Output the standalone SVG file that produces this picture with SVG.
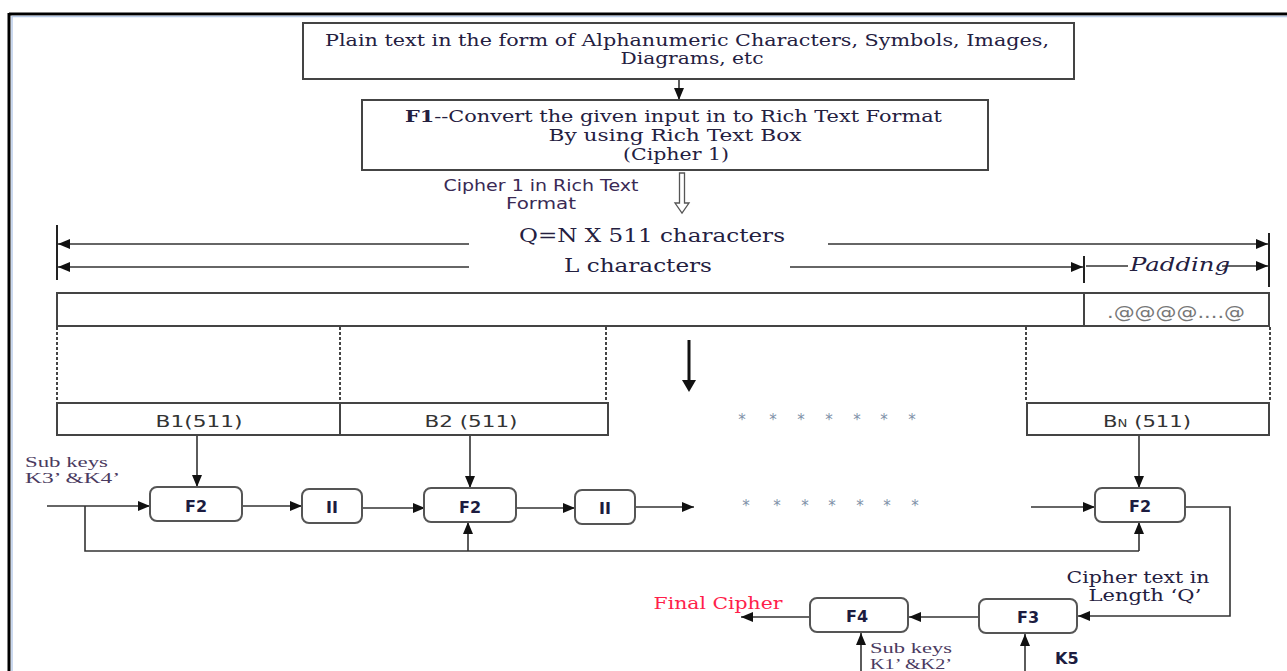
<svg xmlns="http://www.w3.org/2000/svg" width="1287" height="671" viewBox="0 0 1287 671">
<defs>
<marker id="ah" markerUnits="userSpaceOnUse" markerWidth="12" markerHeight="10" refX="12" refY="5" orient="auto"><path d="M0,0 L12,5 L0,10 z" fill="#111"/></marker>
<style>
.box{fill:#fff;stroke:#444;stroke-width:2}
.rbox{fill:#fff;stroke:#555;stroke-width:2}
.ln{fill:none;stroke:#333;stroke-width:1.6}
.ar{fill:none;stroke:#333;stroke-width:1.6;marker-end:url(#ah)}
.dash{fill:none;stroke:#444;stroke-width:2;stroke-dasharray:3,2}
.tick{stroke:#222;stroke-width:2}
.serif{font-family:"DejaVu Serif","Liberation Serif",serif;fill:#24203f}
.sub{font-family:"Liberation Serif","DejaVu Serif",serif;fill:#4a3a60;font-size:14px}
.sans{font-family:"DejaVu Sans","Liberation Sans",sans-serif}
.blk{font-family:"DejaVu Sans","Liberation Sans",sans-serif;font-size:16px;fill:#333;text-anchor:middle}
.fb{font-family:"DejaVu Sans","Liberation Sans",sans-serif;font-weight:bold;font-size:16px;fill:#1c1c40;text-anchor:middle}
.ast{font-family:"DejaVu Sans",sans-serif;font-size:15px;fill:#8090a8;text-anchor:middle}
.red{font-family:"DejaVu Serif","Liberation Serif",serif;fill:#ff1f4b;font-size:16px}
</style>
</defs>
<rect width="1287" height="671" fill="#fff"/>
<g id="frame">
<line x1="9" y1="14" x2="1287" y2="14" stroke="#000" stroke-width="3"/>
<line x1="12" y1="16.5" x2="1287" y2="16.5" stroke="#b8cbe8" stroke-width="1.5"/>
<line x1="9" y1="13" x2="9" y2="671" stroke="#000" stroke-width="3"/>
<line x1="12" y1="16" x2="12" y2="671" stroke="#b8cbe8" stroke-width="1.5"/>
</g>
<g id="connectors">
<line class="ar" x1="679" y1="79" x2="679" y2="100"/>
<path d="M679.5,173 h5 v30 h4.5 l-7,10 l-7,-10 h4.5 z" fill="#fff" stroke="#555" stroke-width="1.3"/>
<line class="ar" x1="469" y1="244" x2="58" y2="244"/>
<line class="ar" x1="828" y1="244" x2="1268" y2="244"/>
<line class="ar" x1="469" y1="267" x2="58" y2="267"/>
<line class="ar" x1="790" y1="267" x2="1083" y2="267"/>
<line class="ln" x1="1086" y1="266" x2="1128" y2="266"/>
<line class="ar" x1="1222" y1="266" x2="1268" y2="266"/>
<line class="tick" x1="57" y1="225" x2="57" y2="280"/>
<line class="tick" x1="1269" y1="233" x2="1269" y2="287"/>
<line class="tick" x1="1084" y1="256" x2="1084" y2="283"/>
<line class="dash" x1="57" y1="327" x2="57" y2="400"/>
<line class="dash" x1="340" y1="327" x2="340" y2="400"/>
<line class="dash" x1="606" y1="327" x2="606" y2="400"/>
<line class="dash" x1="1026" y1="327" x2="1026" y2="400"/>
<line class="dash" x1="1270" y1="327" x2="1270" y2="400"/>
<line x1="689" y1="340" x2="689" y2="382" stroke="#111" stroke-width="3"/>
<path d="M682,380 L696,380 L689,392 z" fill="#111"/>
<line class="ar" x1="197" y1="435" x2="197" y2="487"/>
<line class="ar" x1="470" y1="435" x2="470" y2="488"/>
<line class="ar" x1="1139" y1="435" x2="1139" y2="488"/>
<line class="ar" x1="47" y1="506" x2="150" y2="506"/>
<polyline class="ln" points="85,506 85,551 1139,551"/>
<line class="ar" x1="468" y1="551" x2="468" y2="522"/>
<line class="ar" x1="1139" y1="551" x2="1139" y2="522"/>
<line class="ar" x1="242" y1="506" x2="302" y2="506"/>
<line class="ar" x1="362" y1="508" x2="425" y2="508"/>
<line class="ar" x1="516" y1="508" x2="575" y2="508"/>
<line class="ar" x1="635" y1="507" x2="694" y2="507"/>
<line class="ar" x1="1031" y1="507" x2="1095" y2="507"/>
<polyline class="ar" points="1185,507 1230,507 1230,616 1078,616"/>
<line class="ar" x1="979" y1="617" x2="909" y2="617"/>
<line class="ar" x1="810" y1="617" x2="741" y2="617"/>
<line class="ar" x1="1025" y1="671" x2="1025" y2="634"/>
<line class="ar" x1="861" y1="671" x2="861" y2="633"/>
</g>
<g id="input">
<rect class="box" x="303" y="23" width="771" height="56"/>
<text class="serif" font-size="17" x="325" y="46" textLength="724" lengthAdjust="spacingAndGlyphs">Plain text in the form of Alphanumeric Characters, Symbols, Images,</text>
<text class="serif" font-size="17" x="692" y="64" text-anchor="middle" textLength="143" lengthAdjust="spacingAndGlyphs">Diagrams, etc</text>
</g>
<g id="f1">
<rect class="box" x="362" y="100" width="626" height="70"/>
<text class="serif" font-size="17" x="405" y="122" textLength="537" lengthAdjust="spacingAndGlyphs"><tspan font-weight="bold">F1</tspan>--Convert the given input in to Rich Text Format</text>
<text class="serif" font-size="17" x="675" y="141" text-anchor="middle" textLength="253" lengthAdjust="spacingAndGlyphs">By using Rich Text Box</text>
<text class="serif" font-size="17" x="676" y="160" text-anchor="middle" textLength="106" lengthAdjust="spacingAndGlyphs">(Cipher 1)</text>
</g>
<g id="cipher1-label">
<text class="sans" font-size="15" fill="#3a2a55" x="541" y="191" text-anchor="middle" textLength="195" lengthAdjust="spacingAndGlyphs">Cipher 1 in Rich Text</text>
<text class="sans" font-size="15" fill="#3a2a55" x="541" y="209" text-anchor="middle" textLength="70" lengthAdjust="spacingAndGlyphs">Format</text>
</g>
<g id="lengths">
<text class="serif" font-size="18" x="652" y="242" text-anchor="middle" textLength="266" lengthAdjust="spacingAndGlyphs">Q=N X 511 characters</text>
<text class="serif" font-size="18" x="638" y="272" text-anchor="middle" textLength="148" lengthAdjust="spacingAndGlyphs">L characters</text>
<text class="serif" font-size="18" font-style="italic" x="1180" y="271" text-anchor="middle" textLength="100" lengthAdjust="spacingAndGlyphs">Padding</text>
</g>
<g id="bar">
<rect class="box" x="57" y="293" width="1212" height="33"/>
<line x1="1084" y1="293" x2="1084" y2="326" stroke="#444" stroke-width="2"/>
<text class="sans" font-size="17" fill="#777" x="1176" y="318" text-anchor="middle" textLength="138" lengthAdjust="spacingAndGlyphs">.@@@@....@</text>
</g>
<g id="blocks">
<rect class="box" x="57" y="403" width="283" height="32"/>
<rect class="box" x="340" y="403" width="268" height="32"/>
<rect class="box" x="1027" y="403" width="242" height="32"/>
<text class="blk" x="199" y="427" textLength="87" lengthAdjust="spacingAndGlyphs">B1(511)</text>
<text class="blk" x="471" y="427" textLength="93" lengthAdjust="spacingAndGlyphs">B2 (511)</text>
<text class="blk" x="1147" y="427" textLength="88" lengthAdjust="spacingAndGlyphs">B<tspan font-size="10">N</tspan> (511)</text>
</g>
<g id="stars">
<text class="ast" y="425"><tspan x="742">*</tspan><tspan x="773">*</tspan><tspan x="801">*</tspan><tspan x="829">*</tspan><tspan x="857">*</tspan><tspan x="884">*</tspan><tspan x="912">*</tspan></text>
<text class="ast" y="511"><tspan x="746">*</tspan><tspan x="777">*</tspan><tspan x="805">*</tspan><tspan x="832">*</tspan><tspan x="860">*</tspan><tspan x="887">*</tspan><tspan x="915">*</tspan></text>
</g>
<g id="subkeys1">
<text class="sub" x="25" y="467" textLength="83" lengthAdjust="spacingAndGlyphs">Sub keys</text>
<text class="sub" x="25" y="483" textLength="95" lengthAdjust="spacingAndGlyphs">K3’ &amp;K4’</text>
</g>
<g id="f2a"><rect class="rbox" x="150" y="487" width="92" height="34" rx="7"/><text class="fb" x="196" y="512">F2</text></g>
<g id="ii1"><rect class="rbox" x="302" y="489" width="60" height="34" rx="7"/><text class="fb" x="332" y="513">II</text></g>
<g id="f2b"><rect class="rbox" x="424" y="488" width="92" height="34" rx="7"/><text class="fb" x="470" y="513">F2</text></g>
<g id="ii2"><rect class="rbox" x="575" y="490" width="60" height="34" rx="7"/><text class="fb" x="605" y="514">II</text></g>
<g id="f2n"><rect class="rbox" x="1095" y="488" width="90" height="34" rx="7"/><text class="fb" x="1140" y="512">F2</text></g>
<g id="f3"><rect class="rbox" x="979" y="599" width="98" height="34" rx="7"/><text class="fb" x="1028" y="623">F3</text></g>
<g id="f4"><rect class="rbox" x="810" y="598" width="98" height="34" rx="7"/><text class="fb" x="857" y="622">F4</text></g>
<g id="labels">
<text class="red" x="718" y="609" text-anchor="middle" textLength="129" lengthAdjust="spacingAndGlyphs">Final Cipher</text>
<text class="serif" font-size="17" x="1138" y="583" text-anchor="middle" textLength="143" lengthAdjust="spacingAndGlyphs">Cipher text in</text>
<text class="serif" font-size="17" x="1145" y="601" text-anchor="middle" textLength="113" lengthAdjust="spacingAndGlyphs">Length ‘Q’</text>
<text class="sans" font-size="16" font-weight="bold" fill="#1c1c40" x="1055" y="664">K5</text>
<text class="sub" x="870" y="653" textLength="82" lengthAdjust="spacingAndGlyphs">Sub keys</text>
<text class="sub" x="870" y="669" textLength="82" lengthAdjust="spacingAndGlyphs">K1’ &amp;K2’</text>
</g>
</svg>
